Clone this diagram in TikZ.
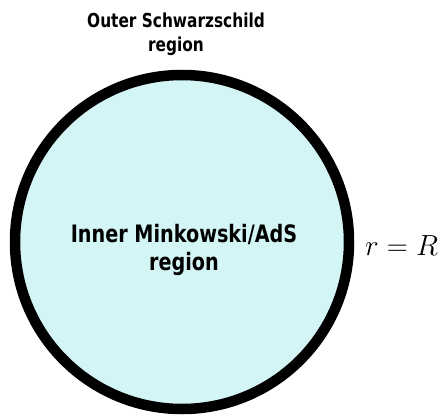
\documentclass[tikz,border=0pt]{standalone}
\usepackage{fontspec}
\usepackage{xcolor}
\usetikzlibrary{positioning}
\newfontfamily\regionfont{DejaVu Sans}[FakeStretch=0.8]
\definecolor{innercyan}{RGB}{212,245,245}

\begin{document}
\begin{tikzpicture}[
    x=1pt, y=1pt,
    boundary/.style={draw=black, line width=10.5pt, fill=innercyan},
    innerlabel/.style={align=center, inner sep=0pt, font=\regionfont\bfseries\fontsize{24}{28}\selectfont},
    outerlabel/.style={align=center, inner sep=0pt, font=\regionfont\bfseries\fontsize{19.2}{24}\selectfont}
]
\useasboundingbox (0,0) rectangle (447,416);

\coordinate (centre) at (182,174);
\draw[boundary] (centre) circle (167pt);

\node[innerlabel, anchor=north] (inner) at (184,192) {Inner Minkowski/AdS\\region};
\node[outerlabel, anchor=north] (outer) at (176,403) {Outer Schwarzschild\\region};
\node[inner sep=0pt, anchor=base west, font=\Huge, scale=1.17] (radius) at (365,161) {$r=R$};

\end{tikzpicture}
\end{document}
